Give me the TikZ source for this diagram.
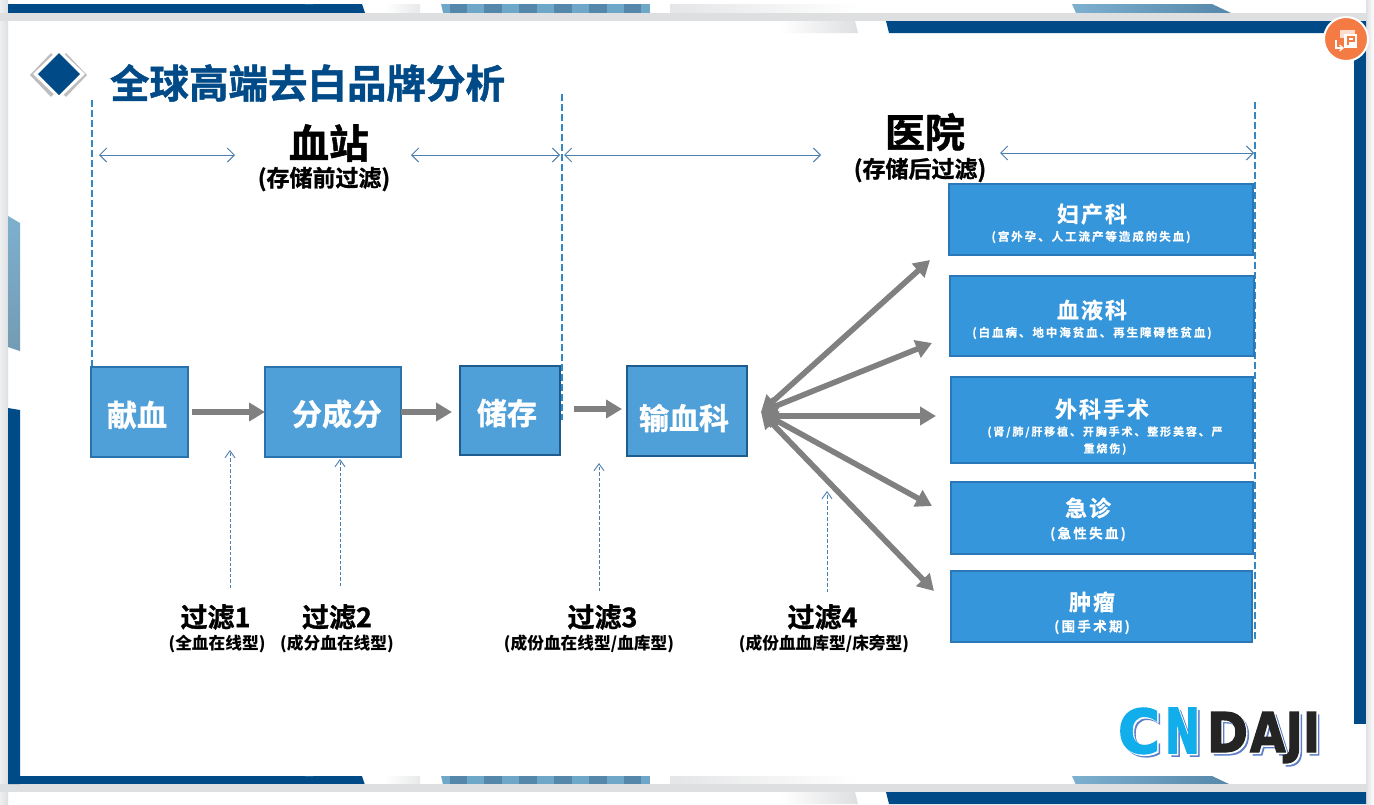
\documentclass[tikz,border=0pt]{standalone}
\usepackage{fontspec}
\setmainfont{Noto Sans CJK SC}
\newfontfamily\heavyfont[FakeBold=1.2]{Noto Sans CJK SC Bold}
\newfontfamily\spacedfont[LetterSpace=17,FakeBold=.4]{Noto Sans CJK SC Bold}
\newfontfamily\titlefont[LetterSpace=9,FakeBold=.6]{Noto Sans CJK SC Bold}
\newfontfamily\logofont[FakeBold=2.5]{DejaVu Sans Bold}
\usetikzlibrary{arrows.meta,shadings,calc}
\definecolor{navy}{HTML}{004B87}
\definecolor{framegray}{HTML}{DEDFE1}
\definecolor{stepfill}{HTML}{4F9FD8}
\definecolor{stepline}{HTML}{2A72AC}
\definecolor{stepdark}{HTML}{1F5C8E}
\definecolor{deptfill}{HTML}{3596DB}
\definecolor{deptline}{HTML}{2A78B8}
\definecolor{guide}{HTML}{3388C4}
\definecolor{span}{HTML}{4A7FAF}
\definecolor{flow}{HTML}{808080}
\definecolor{stripeA}{HTML}{5487A9}
\definecolor{stripeB}{HTML}{6FA7C9}
\definecolor{badge}{HTML}{F47B44}
\definecolor{logocyan}{HTML}{12AEEB}
\definecolor{logoblack}{HTML}{242424}
\definecolor{logoshade}{HTML}{5C7FC8}
\tikzset{
  x=1pt,y=-1pt,
  every node/.style={inner sep=0pt,outer sep=0pt,align=center},
  stepbox/.style={draw=stepline,fill=stepfill,line width=1.5pt,anchor=center},
  deptbox/.style={draw=deptline,fill=deptfill,line width=2pt,anchor=center},
  steptext/.style={text=white,font=\heavyfont\fontsize{30}{32}\selectfont},
  depttitle/.style={text=white,font=\titlefont\fontsize{22}{24}\selectfont},
  deptnote/.style={text=white,font=\spacedfont\fontsize{11.5}{17}\selectfont},
  guideline/.style={draw=guide,line width=2pt,dash pattern=on 7pt off 3pt},
  spanarrow/.style={draw=span,line width=1pt,{Straight Barb[length=7pt,width=14pt]}-{Straight Barb[length=7pt,width=14pt]}},
  uparrow/.style={draw=span,line width=.9pt,dash pattern=on 3.5pt off 2pt,-{Straight Barb[length=7pt,width=10pt]}},
  flowarrow/.style={draw=flow,line width=5.5pt,-{Triangle[length=16pt,width=18pt]}},
  fanarrow/.style={draw=flow,line width=5.6pt,{Triangle[length=16pt,width=18pt]}-{Triangle[length=16pt,width=18pt]}},
  filtername/.style={font=\heavyfont\fontsize{27}{29}\selectfont},
  filternote/.style={font=\bfseries\fontsize{16.7}{19}\selectfont},
  headname/.style={font=\heavyfont\fontsize{40}{42}\selectfont},
  headnote/.style={font=\heavyfont\fontsize{23}{25}\selectfont},
}
% One band of the slide border: navy bar, pale fades, striped block, blue wedge
\newcommand{\borderband}[1]{%
  \begin{scope}[yshift=#1]
    \fill[navy] (8,4) -- (362,4) -- (365,13) -- (8,13) -- cycle;
    \fill[white] (305,4) arc[start angle=180,end angle=360,x radius=4,y radius=2] -- cycle;
    \shade[left color=white,right color=framegray!70] (385,4) rectangle (420,13);
    \shade[left color=framegray!80,right color=white] (670,4) rectangle (860,13);
    \foreach \sx/\sc in {441/stripeB,450/stripeA,467/stripeB,484/stripeA,502/stripeB,519/stripeA,537/stripeB,554/stripeA,572/stripeB,589/stripeA,607/stripeB,624/stripeA,641/stripeB}
      \fill[\sc] (\sx,4) rectangle (\sx+8.8,13) (\sx+8.8,4) rectangle (\sx+18,13);
    \fill[white] (650,4) rectangle (668,13);
    \fill[white] (436,4) -- (441,4) -- (443,13) -- (436,13) -- cycle;
    \shade[left color=stripeB!90,right color=stripeA,shading angle=90] (1072,4) -- (1212,4) -- (1231,13) -- (1076,13) -- cycle;
  \end{scope}}
% Wordmark letters at their individual widths, in one colour per word part
\newcommand{\logoCN}{\resizebox{42pt}{45pt}{\logofont C}\hspace{5pt}\resizebox{35pt}{45pt}{\logofont N}}
\newcommand{\logoDAJI}{\resizebox{41pt}{40pt}{\logofont D}\hspace{2pt}\resizebox{70pt}{40pt}{\logofont AJI}}
\newcommand{\layered}[2]{%
  \rlap{\kern3pt\raisebox{-3pt}{\color{logoshade}#2}}%
  \rlap{\kern1.5pt\raisebox{-1.5pt}{\color{white}#2}}%
  {\color{#1}#2}}
\begin{document}
\begin{tikzpicture}
\useasboundingbox (0,0) rectangle (1374,804);
\fill[white] (0,0) rectangle (1374,804);

% Slide surround and border pieces
\shade[left color=framegray!50,right color=framegray] (0,0) rectangle (8,804);
\shade[left color=framegray,right color=white] (1366,0) rectangle (1374,804);
\borderband{0pt}
\fill[framegray] (0,13) rectangle (1366,21);
\borderband{-772pt}
\fill[framegray] (0,784) rectangle (1366,792);
\shade[left color=white,right color=framegray] (780,21) -- (855,21) -- (858,33) -- (780,33) -- cycle;
\fill[navy] (886,21) -- (1366,21) -- (1366,33) -- (889,33) -- cycle;
\fill[navy] (886,792) -- (1366,792) -- (1366,804) -- (889,804) -- cycle;
\shade[left color=white,right color=framegray] (780,792) -- (855,792) -- (858,804) -- (780,804) -- cycle;
\fill[navy] (1354,33) rectangle (1366,724);
\fill[navy] (8,408) -- (20,410) -- (20,784) -- (8,784) -- cycle;
\shade[top color=stripeB!90,bottom color=stripeB!70!gray] (8,216) -- (20,223) -- (20,351) -- (8,347) -- cycle;

% Conversion badge in the corner
\fill[badge,draw=white,line width=2pt] (1346,39) circle (22);
\fill[white,opacity=.75] (1340,30) rectangle (1355,38);
\fill[white] (1344,34) rectangle (1357,48);
\draw[badge,line width=1.4pt] (1348,45) -- (1348,37) -- (1354,37) -- (1354,41) -- (1348,41);
\draw[white,line width=1.2pt,-{Straight Barb[length=3.5pt,width=6pt]}] (1336,40) -- (1336,48) -- (1344,48);

% Heading with its diamond bullet
\fill[framegray!85!black] (51,53) -- (72,75) -- (51,97) -- (30,75) -- cycle;
\fill[framegray!85!black] (66,53) -- (87,75) -- (66,97) -- (45,75) -- cycle;
\fill[white] (59,49) -- (85,74) -- (59,99) -- (33,74) -- cycle;
\fill[navy] (59,53) -- (80,74) -- (59,95) -- (38,74) -- cycle;
\node[text=navy,font=\heavyfont\fontsize{39.5}{42}\selectfont] (title) at (307.5,83) {全球高端去白品牌分析};

% Section boundaries
\coordinate (g1a) at (92,100);
\coordinate (g1b) at (92,440);
\coordinate (g2a) at (561.5,94);
\coordinate (g2b) at (561.5,420);
\coordinate (g3a) at (1254.5,102);
\coordinate (g3b) at (1254.5,642);
\draw[guideline] (g1a) -- (g1b);
\draw[guideline] (g2a) -- (g2b);
\draw[guideline] (g3a) -- (g3b);

% Section headings and their spans
\node[headname] (station) at (329,143) {血站};
\node[headnote] (stationnote) at (324,179) {(存储前过滤)};
\node[headname] (hospital) at (925,132) {医院};
\node[headnote] (hospitalnote) at (920,170) {(存储后过滤)};
\coordinate (s1a) at (99,155);   \coordinate (s1b) at (235,155);
\coordinate (s2a) at (411,155);  \coordinate (s2b) at (560,155);
\coordinate (s3a) at (564,155);  \coordinate (s3b) at (821,155);
\coordinate (s4a) at (1000,153); \coordinate (s4b) at (1254,153);
\draw[spanarrow] (s1a) -- (s1b);
\draw[spanarrow] (s2a) -- (s2b);
\draw[spanarrow] (s3a) -- (s3b);
\draw[spanarrow] (s4a) -- (s4b);

% Process steps
\node[stepbox,minimum width=97pt,minimum height=90pt] (donate) at (139.5,412) {};
\node[stepbox,minimum width=136pt,minimum height=90pt] (split) at (333,412) {};
\node[stepbox,draw=stepdark,minimum width=100pt,minimum height=89pt] (store) at (510,410.5) {};
\node[stepbox,draw=stepdark,minimum width=120pt,minimum height=90pt] (transfuse) at (687,411) {};
\node[steptext] (donatetext) at (137,415) {献血};
\node[steptext] (splittext) at (337,414) {分成分};
\node[steptext] (storetext) at (507,413) {储存};
\node[steptext] (transfusetext) at (684,418) {输血科};

\draw[flowarrow,shorten <=4pt] (donate.east) -- (split.west);
\draw[flowarrow] (split.east) -- ($(split.east)+(51,0)$);
\coordinate (storeout) at ($(store.east)+(0,-1.5)$);
\draw[flowarrow,shorten <=14pt,shorten >=5pt] (storeout) -- (storeout -| transfuse.west);

% Departments
\node[deptbox,minimum width=304pt,minimum height=71pt] (obgyn) at (1101,219.5) {};
\node[deptbox,minimum width=304pt,minimum height=80pt] (hema) at (1102,316) {};
\node[deptbox,minimum width=302pt,minimum height=86pt] (surgery) at (1102,420) {};
\node[deptbox,minimum width=302pt,minimum height=72pt] (emerg) at (1102,518) {};
\node[deptbox,minimum width=301pt,minimum height=71pt] (onco) at (1101.5,606.5) {};

\node[depttitle] (obgyntitle) at (1092,214) {妇产科};
\node[deptnote] (obgynnote) at (1091,237) {(宫外孕、人工流产等造成的失血)};
\node[depttitle] (hematitle) at (1092,310) {血液科};
\node[deptnote] (hemanote) at (1092,333) {(白血病、地中海贫血、再生障碍性贫血)};
\node[depttitle] (surgerytitle) at (1102,409) {外科手术};
\node[deptnote,font=\spacedfont\fontsize{11}{17}\selectfont] (surgerynote) at (1105,440.5) {(肾/肺/肝移植、开胸手术、整形美容、严\\重烧伤)};
\node[depttitle] (emergtitle) at (1088,508) {急诊};
\node[deptnote,font=\spacedfont\fontsize{13.5}{15}\selectfont] (emergnote) at (1088,534) {(急性失血)};
\node[depttitle] (oncotitle) at (1092,602) {肿瘤};
\node[deptnote,font=\spacedfont\fontsize{13.5}{15}\selectfont] (onconote) at (1092,627) {(围手术期)};

% Fan of routes from transfusion to the departments
\coordinate (hub) at (761,412);
\coordinate (hublevel) at (762,416);
\coordinate (f1) at (930,260);
\coordinate (f2) at (932,343);
\coordinate (f3) at (936,416);
\coordinate (f4) at (932,506);
\coordinate (f5) at (934,591);
\draw[fanarrow] (hub) -- (f1);
\draw[fanarrow] (hub) -- (f2);
\draw[fanarrow] (hublevel) -- (f3);
\draw[fanarrow] (hub) -- (f4);
\draw[fanarrow] (hub) -- (f5);

% Filter stages
\node[filtername] (filter1) at (215.5,617) {过滤1};
\node[filternote] (filter1note) at (217,644) {(全血在线型)};
\node[filtername] (filter2) at (337,617) {过滤2};
\node[filternote] (filter2note) at (337,644) {(成分血在线型)};
\node[filtername] (filter3) at (602.5,617) {过滤3};
\node[filternote] (filter3note) at (589,644) {(成份血在线型/血库型)};
\node[filtername] (filter4) at (822.5,617) {过滤4};
\node[filternote] (filter4note) at (824,644) {(成份血血库型/床旁型)};

\coordinate (u1a) at (230,588); \coordinate (u1b) at (230,450);
\coordinate (u2a) at (340,586); \coordinate (u2b) at (340,459);
\coordinate (u3a) at (599,591); \coordinate (u3b) at (599,463);
\coordinate (u4a) at (827,592); \coordinate (u4b) at (827,491);
\draw[uparrow] (u1a) -- (u1b);
\draw[uparrow] (u2a) -- (u2b);
\draw[uparrow] (u3a) -- (u3b);
\draw[uparrow] (u4a) -- (u4b);

% Wordmark with its offset shadow
\node[anchor=north west] (logoa) at (1118,708) {\layered{logocyan}{\logoCN}};
\node[anchor=north west] (logob) at (1207,712) {\layered{logoblack}{\logoDAJI}};
\end{tikzpicture}
\end{document}
